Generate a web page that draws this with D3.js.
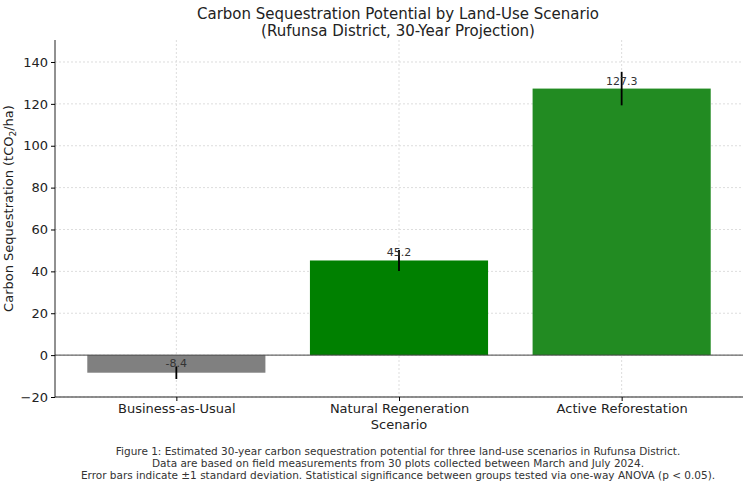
<!DOCTYPE html>
<html><head><meta charset="utf-8">
<script src="https://cdn.jsdelivr.net/npm/d3@7"></script>
<style>body{margin:0;background:#fff;font-family:"DejaVu Sans",sans-serif;}</style>
</head><body><div id="chart"></div>
<script>
const scenarios = ["Business-as-Usual", "Natural Regeneration", "Active Reforestation"];
const values = [-8.4, 45.2, 127.3];
const errors = [3, 5, 8];
const colors = ["#808080", "#008000", "#228b22"];
const yTicks = [-20, 0, 20, 40, 60, 80, 100, 120, 140];
const captionLines = [
  "Figure 1: Estimated 30-year carbon sequestration potential for three land-use scenarios in Rufunsa District.",
  "Data are based on field measurements from 30 plots collected between March and July 2024.",
  "Error bars indicate \u00b11 standard deviation. Statistical significance between groups tested via one-way ANOVA (p < 0.05)."
];

const W = 750, H = 488;
const M = { LEFT: 55, RIGHT: 7, TOP: 40, BOTTOM: 91 };
const svg = d3.select("#chart").append("svg").attr("width", W).attr("height", H);
const g = svg.append("g").attr("transform", `translate(${M.LEFT},${M.TOP})`);
const iw = W - M.LEFT - M.RIGHT, ih = H - M.TOP - M.BOTTOM;

const x = d3.scaleLinear().domain([-0.545, 2.545]).range([0, iw]);
const y = d3.scaleLinear().domain([-20, 150.5]).range([ih, 0]);
const bw = x(0.8) - x(0);

// grid
g.append("g").selectAll("line").data(yTicks).join("line")
  .attr("x1", 0).attr("x2", iw).attr("y1", d => y(d)).attr("y2", d => y(d))
  .attr("stroke", "#ddd").attr("stroke-dasharray", "2,2");
g.append("g").selectAll("line").data(scenarios).join("line")
  .attr("x1", (d, i) => x(i)).attr("x2", (d, i) => x(i)).attr("y1", 0).attr("y2", ih)
  .attr("stroke", "#ddd").attr("stroke-dasharray", "2,2");

// bars
g.selectAll(".bar").data(values).join("rect").attr("class", "bar")
  .attr("x", (d, i) => x(i) - bw / 2).attr("width", bw)
  .attr("y", d => y(Math.max(0, d))).attr("height", d => Math.abs(y(d) - y(0)))
  .attr("fill", (d, i) => colors[i]);

// zero line
g.append("line").attr("x1", 0).attr("x2", iw).attr("y1", y(0)).attr("y2", y(0))
  .attr("stroke", "#444").attr("stroke-width", 1);

// error bars
g.selectAll(".err").data(values).join("line").attr("class", "err")
  .attr("x1", (d, i) => x(i)).attr("x2", (d, i) => x(i))
  .attr("y1", (d, i) => y(d + errors[i])).attr("y2", (d, i) => y(d - errors[i]))
  .attr("stroke", "#000").attr("stroke-width", 1.8);

// value labels
g.selectAll(".lbl").data(values).join("text").attr("class", "lbl")
  .attr("x", (d, i) => x(i)).attr("y", d => y(Math.max(0, d)) - (d < 0 ? -12 : 4))
  .attr("text-anchor", "middle").attr("font-size", 11).attr("fill", "#333")
  .text(d => d.toFixed(1));

// axes
const yAxis = g.append("g").call(d3.axisLeft(y).tickValues(yTicks).tickSize(4).tickSizeOuter(0));
const xAxis = g.append("g").attr("transform", `translate(0,${ih})`)
  .call(d3.axisBottom(x).tickValues([0, 1, 2]).tickFormat((d, i) => scenarios[i]).tickSize(4).tickSizeOuter(0));
[yAxis, xAxis].forEach(a => {
  a.selectAll("text").attr("font-size", 13).attr("fill", "#222").attr("font-family", "DejaVu Sans");
  a.select(".domain").attr("stroke", "#222");
});
yAxis.select(".domain").attr("d", `M0,0V${ih}`);
xAxis.select(".domain").attr("d", `M0,0H${iw}`);

// axis titles
g.append("text").attr("x", iw / 2).attr("y", ih + 32).attr("text-anchor", "middle")
  .attr("font-size", 13).attr("fill", "#222").text("Scenario");
g.append("text").attr("transform", "rotate(-90)").attr("x", -ih / 2 + 10).attr("y", -42)
  .attr("text-anchor", "middle").attr("font-size", 13).attr("fill", "#222")
  .html("Carbon Sequestration (tCO<tspan font-size='9' dy='3'>2</tspan><tspan dy='-3'>/ha)</tspan>");

// title
svg.append("text").attr("x", 398).attr("y", 19).attr("text-anchor", "middle")
  .attr("font-size", 15).attr("fill", "#222").text("Carbon Sequestration Potential by Land-Use Scenario");
svg.append("text").attr("x", 398).attr("y", 36).attr("text-anchor", "middle")
  .attr("font-size", 15).attr("fill", "#222").text("(Rufunsa District, 30-Year Projection)");

// caption
svg.append("g").selectAll("text").data(captionLines).join("text")
  .attr("x", 398).attr("y", (d, i) => 455 + i * 12).attr("text-anchor", "middle")
  .attr("font-size", 10.5).attr("fill", "#333").text(d => d);
</script></body></html>
